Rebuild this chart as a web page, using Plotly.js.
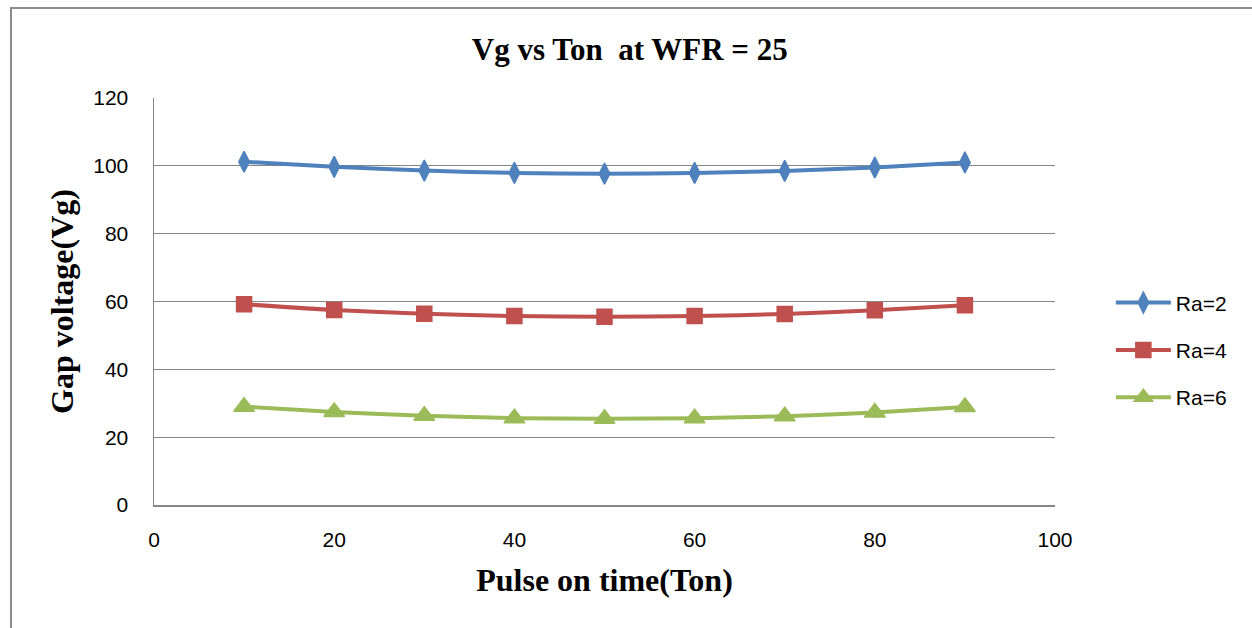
<!DOCTYPE html>
<html>
<head>
<meta charset="utf-8">
<script src="https://cdn.plot.ly/plotly-3.0.1.min.js"></script>
<style>
  html, body { margin: 0; padding: 0; background: #fff; }
  #frame { position: absolute; left: 10px; top: 7px; width: 1300px; height: 700px;
           border-left: 2px solid #8c8c8c; border-top: 2px solid #8c8c8c; pointer-events: none; z-index: 5; }
  #chart { position: absolute; left: 0; top: 0; width: 1252px; height: 628px; }
</style>
</head>
<body>
<div id="chart"></div>
<div id="frame"></div>
<script>
const pulseOnTime = [10, 20, 30, 40, 50, 60, 70, 80, 90];
const vgRa2 = [101.2, 99.7, 98.6, 97.9, 97.7, 97.9, 98.5, 99.5, 101.0];
const vgRa4 = [59.2, 57.5, 56.4, 55.7, 55.5, 55.7, 56.3, 57.4, 58.9];
const vgRa6 = [29.0, 27.4, 26.3, 25.6, 25.4, 25.6, 26.2, 27.3, 28.9];
const seriesNames = ["Ra=2", "Ra=4", "Ra=6"];
const xTicks = [0, 20, 40, 60, 80, 100];
const yTicks = [0, 20, 40, 60, 80, 100, 120];

const colors = ["#4F81BD", "#C0504D", "#9BBB59"];
const symbols = ["diamond-tall", "square", "triangle-up"];
const sizes = [15, 15, 18];
const ys = [vgRa2, vgRa4, vgRa6];

const traces = ys.map((y, i) => ({
  x: pulseOnTime,
  y: y,
  name: seriesNames[i],
  legendgroup: "g" + i,
  type: "scatter",
  mode: "lines+markers",
  line: { color: colors[i], width: 4, shape: "spline", smoothing: 0.6 },
  marker: { symbol: symbols[i], size: sizes[i], color: colors[i], line: { color: colors[i], width: 1.5 } },
  cliponaxis: false
}));

const tickFont = { family: "Liberation Sans, Arial, sans-serif", size: 21, color: "#000" };
const titleFont = { family: "Liberation Serif, Times New Roman, serif", size: 31, color: "#000", weight: "bold" };
const axisTitleFont = { family: "Liberation Serif, Times New Roman, serif", size: 32, color: "#000", weight: "bold" };

const layout = {
  width: 1252,
  height: 628,
  margin: { l: 154, r: 197, t: 98, b: 123 },
  paper_bgcolor: "#fff",
  plot_bgcolor: "#fff",
  title: {
    text: "<b>Vg vs Ton  at WFR = 25</b>",
    font: titleFont,
    x: 0.503, xref: "container", xanchor: "center",
    y: 46, yref: "container", yanchor: "middle"
  },
  xaxis: {
    range: [0, 100],
    tickvals: xTicks,
    ticktext: xTicks.map(String),
    showgrid: false,
    zeroline: false,
    showline: true,
    linecolor: "#868686",
    linewidth: 1.5,
    ticks: "",
    ticklabelstandoff: 15,
    tickfont: tickFont,
    title: { text: "<b>Pulse on time(Ton)</b>", font: axisTitleFont, standoff: 19 }
  },
  yaxis: {
    range: [0, 120],
    tickvals: yTicks,
    ticktext: yTicks.map(String),
    showgrid: true,
    gridcolor: "#868686",
    gridwidth: 1.3,
    zeroline: false,
    showline: true,
    linecolor: "#868686",
    linewidth: 1.5,
    ticks: "",
    ticklabelstandoff: 20,
    tickfont: tickFont,
    title: { text: "<b>Gap voltage(Vg)</b>", font: axisTitleFont, standoff: 10 }
  },
  showlegend: true,
  legend: {
    x: 1.062, xanchor: "left",
    y: 0.381, yanchor: "middle",
    font: { family: "Liberation Sans, Arial, sans-serif", size: 21, color: "#000" },
    traceorder: "grouped",
    tracegroupgap: 17,
    itemwidth: 55,
    bgcolor: "rgba(0,0,0,0)"
  }
};

Plotly.newPlot("chart", traces, layout, { displayModeBar: false, staticPlot: true });
</script>
</body>
</html>
